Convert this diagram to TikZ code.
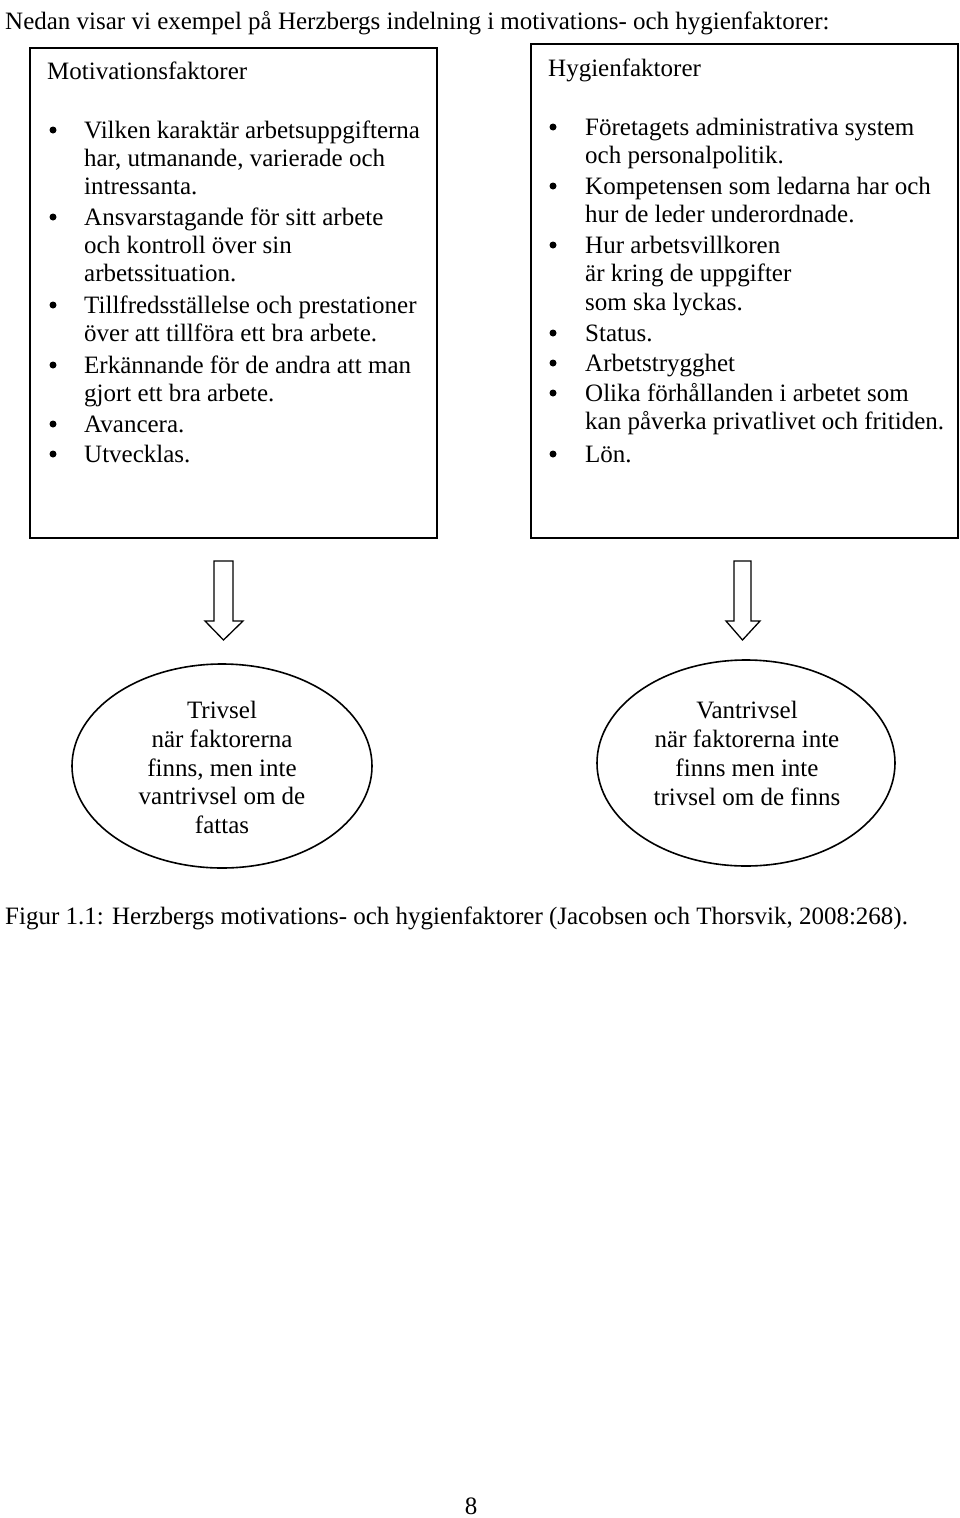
\documentclass[tikz,border=0pt]{standalone}
\usepackage{fontspec}
\setmainfont{Liberation Serif}
\usetikzlibrary{shapes.geometric}
\begin{document}
\begin{tikzpicture}[x=1pt,y=-1pt,
  txt/.style={anchor=base west,inner sep=0pt,font=\fontsize{25}{29}\selectfont},
  ctxt/.style={anchor=base,inner sep=0pt,font=\fontsize{25}{29}\selectfont},
  bul/.style={circle,fill=black,inner sep=0pt,minimum size=7pt},
  frame/.style={draw=black,line width=1.6pt},
  bigarrow/.style={draw=black,line width=1.3pt,fill=white,line join=miter},
  oval/.style={draw=black,line width=1.6pt,ellipse}]
\useasboundingbox (0,0) rectangle (960,1518);
\fill[white] (0,0) rectangle (960,1518);
\node[txt] (hdr) at (5,29) {Nedan visar vi exempel på Herzbergs indelning i motivations- och hygienfaktorer:};
% left box
\draw[frame] (30,48) rectangle (437,538);
\node[txt] (mt) at (47,79) {Motivationsfaktorer};
\foreach \y/\b/\t in {
 130/1/Vilken karaktär arbetsuppgifterna,
 158/0/{har, utmanande, varierade och},
 186/0/intressanta.,
 217/1/Ansvarstagande för sitt arbete,
 245/0/och kontroll över sin,
 273/0/arbetssituation.,
 305/1/Tillfredsställelse och prestationer,
 333/0/över att tillföra ett bra arbete.,
 365/1/Erkännande för de andra att man,
 393/0/gjort ett bra arbete.,
 424/1/Avancera.,
 454/1/Utvecklas.}{
  \node[txt] (l\y) at (84,\y+8) {\t};
  \ifnum\b=1 \node[bul] (lb\y) at (53,\y) {};\fi
}
% right box
\draw[frame] (531,44) rectangle (958,538);
\node[txt] (ht) at (548,76) {Hygienfaktorer};
\foreach \y/\b/\t in {
 127/1/Företagets administrativa system,
 155/0/och personalpolitik.,
 186/1/Kompetensen som ledarna har och,
 214/0/hur de leder underordnade.,
 245/1/Hur arbetsvillkoren,
 273/0/är kring de uppgifter,
 302/0/som ska lyckas.,
 333/1/Status.,
 363/1/Arbetstrygghet,
 393/1/Olika förhållanden i arbetet som,
 421/0/kan påverka privatlivet och fritiden.,
 454/1/Lön.}{
  \node[txt] (r\y) at (585,\y+8) {\t};
  \ifnum\b=1 \node[bul] (rb\y) at (553,\y) {};\fi
}
% arrows
\draw[bigarrow] (214,561) -- (233,561) -- (233,621) -- (243,621) -- (223.5,640) -- (205,621) -- (214,621) -- cycle;
\draw[bigarrow] (734,561) -- (751,561) -- (751,621) -- (760,621) -- (742.5,640) -- (726,621) -- (734,621) -- cycle;
% ellipses
\node[oval,minimum width=300pt,minimum height=204pt] (e1) at (222,766) {};
\node[oval,minimum width=298pt,minimum height=206pt] (e2) at (746,763) {};
\foreach \y/\t in {710/Trivsel,739/när faktorerna,768/{finns, men inte},796/vantrivsel om de,825/fattas}
  \node[ctxt] at (222,\y+8) {\t};
\foreach \y/\t in {710/Vantrivsel,739/när faktorerna inte,768/finns men inte,797/trivsel om de finns}
  \node[ctxt] at (747,\y+8) {\t};
\node[txt] (cap) at (5,924) {Figur 1.1: Herzbergs motivations- och hygienfaktorer (Jacobsen och Thorsvik, 2008:268).};
\node[ctxt] (pg) at (471,1514) {8};
\end{tikzpicture}
\end{document}
